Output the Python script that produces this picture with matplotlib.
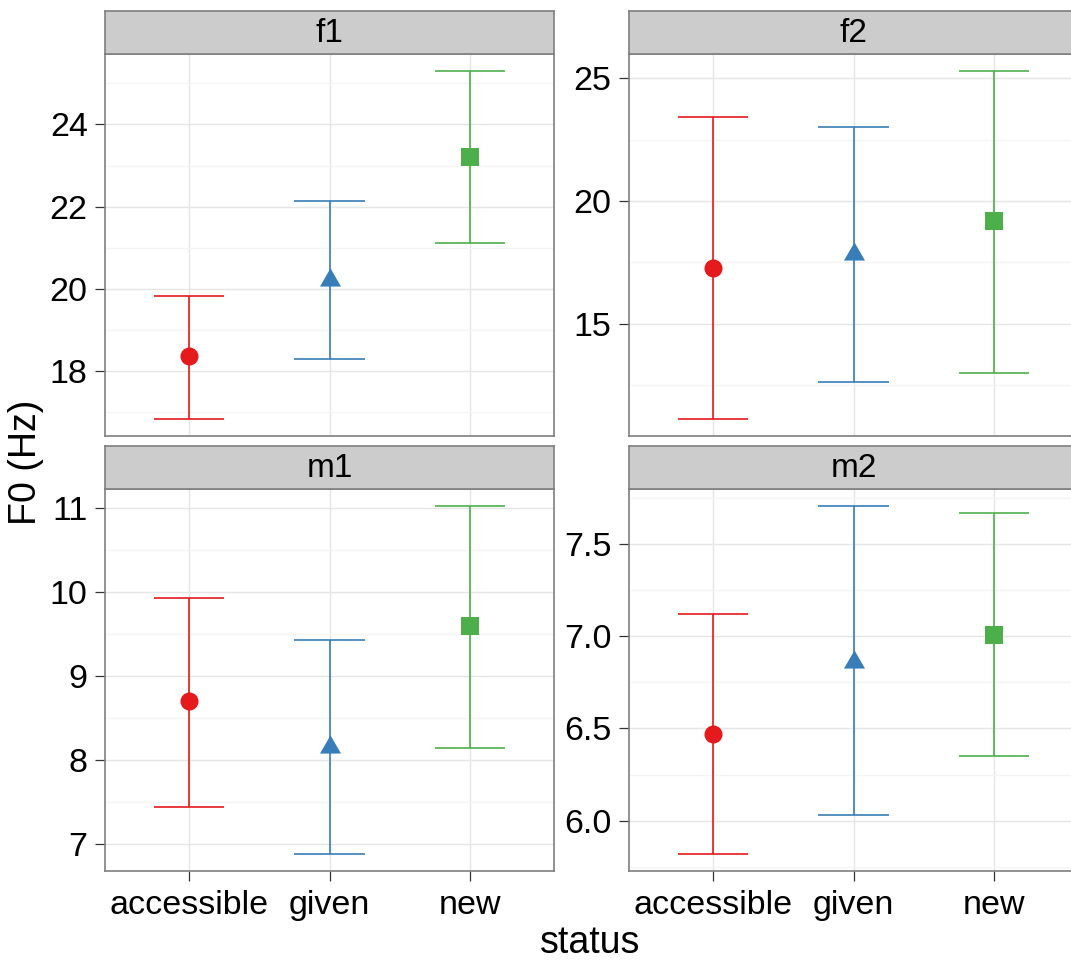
import matplotlib.pyplot as plt
from matplotlib.ticker import FixedLocator, MultipleLocator, FormatStrFormatter

# categories and panels
status = ['accessible', 'given', 'new']
speakers = ['f1', 'f2', 'm1', 'm2']

# mean F0 and the error bar ends
f1_mean = [18.38, 20.22, 23.21]
f1_low = [16.85, 18.31, 21.11]
f1_high = [19.83, 22.14, 25.29]

f2_mean = [17.26, 17.83, 19.20]
f2_low = [11.12, 12.61, 12.99]
f2_high = [23.42, 23.04, 25.29]

m1_mean = [8.71, 8.16, 9.60]
m1_low = [7.45, 6.89, 8.15]
m1_high = [9.93, 9.43, 11.02]

m2_mean = [6.47, 6.86, 7.006]
m2_low = [5.82, 6.03, 6.35]
m2_high = [7.12, 7.707, 7.67]

# y axis ticks for each panel
f1_ticks = [18, 20, 22, 24]
f2_ticks = [15, 20, 25]
m1_ticks = [7, 8, 9, 10, 11]
m2_ticks = [6.0, 6.5, 7.0, 7.5]

colors = ['#E41A1C', '#377EB8', '#4DAF4A']

# equilateral triangle like R's pch 17
tri = [(0, 1), (-0.866, -0.5), (0.866, -0.5), (0, 1)]
markers = ['o', tri, 's']
msizes = [13, 17.5, 12.8]

W, H = 1071, 961
plt.rcParams['font.family'] = ['Liberation Sans', 'DejaVu Sans']


def make_panel(fig, left, top, name, means, lows, highs, ticks, minor, fmt):
    # pixel box -> figure fraction
    pw, ph, sh = 449, 382, 43
    ax = fig.add_axes([left / W, 1 - (top + sh + ph) / H, pw / W, ph / H])
    strip = fig.add_axes([left / W, 1 - (top + sh) / H, pw / W, sh / H])

    xs = range(1, len(status) + 1)
    for i, x in enumerate(xs):
        ax.vlines(x, lows[i], highs[i], color=colors[i], lw=1.2, zorder=3)
        ax.hlines([lows[i], highs[i]], x - 0.25, x + 0.25, color=colors[i], lw=1.2, zorder=3)
        ax.plot(x, means[i], marker=markers[i], ms=msizes[i], color=colors[i],
                markeredgewidth=0, linestyle='none', zorder=4)

    ax.set_xlim(0.4, 3.6)
    ax.margins(y=0.05)
    ax.set_xticks(list(xs))
    ax.set_xticklabels(status)
    ax.yaxis.set_major_locator(FixedLocator(ticks))
    ax.yaxis.set_minor_locator(MultipleLocator(minor))
    ax.yaxis.set_major_formatter(FormatStrFormatter(fmt))
    ax.grid(True, which='major', color='#E5E5E5', lw=1.0)
    ax.grid(True, which='minor', axis='y', color='#F4F4F4', lw=1.0)
    ax.set_axisbelow(True)
    ax.tick_params(which='major', direction='out', length=7.5, width=0.9,
                   color='#333333', labelsize=24.5, labelcolor='black')
    ax.tick_params(axis='y', pad=5)
    ax.tick_params(axis='x', pad=6)
    ax.tick_params(which='minor', length=0)
    for sp in ax.spines.values():
        sp.set_color('#7F7F7F')
        sp.set_linewidth(1.2)

    strip.set_facecolor('#CCCCCC')
    strip.set_xticks([])
    strip.set_yticks([])
    for sp in strip.spines.values():
        sp.set_color('#7F7F7F')
        sp.set_linewidth(1.2)
    strip.text(0.5, 0.47, name, ha='center', va='center', fontsize=24,
               transform=strip.transAxes)
    return ax


def main():
    fig = plt.figure(figsize=(W / 100, H / 100), dpi=100)
    fig.patch.set_facecolor('white')

    top1 = make_panel(fig, 105, 11, speakers[0], f1_mean, f1_low, f1_high, f1_ticks, 1, '%d')
    top2 = make_panel(fig, 629, 11, speakers[1], f2_mean, f2_low, f2_high, f2_ticks, 2.5, '%d')
    make_panel(fig, 105, 446, speakers[2], m1_mean, m1_low, m1_high, m1_ticks, 0.5, '%d')
    make_panel(fig, 629, 446, speakers[3], m2_mean, m2_low, m2_high, m2_ticks, 0.25, '%.1f')

    # the top row has no x labels
    for ax in (top1, top2):
        ax.tick_params(axis='x', length=0, labelbottom=False)

    fig.text(590 / W, 1 - 943 / H, 'status', ha='center', va='center', fontsize=27)
    fig.text(26 / W, 1 - 462 / H, 'F0 (Hz)', ha='center', va='center',
             rotation=90, fontsize=27)

    plt.savefig('out.png', dpi=100)


if __name__ == "__main__":
    main()
